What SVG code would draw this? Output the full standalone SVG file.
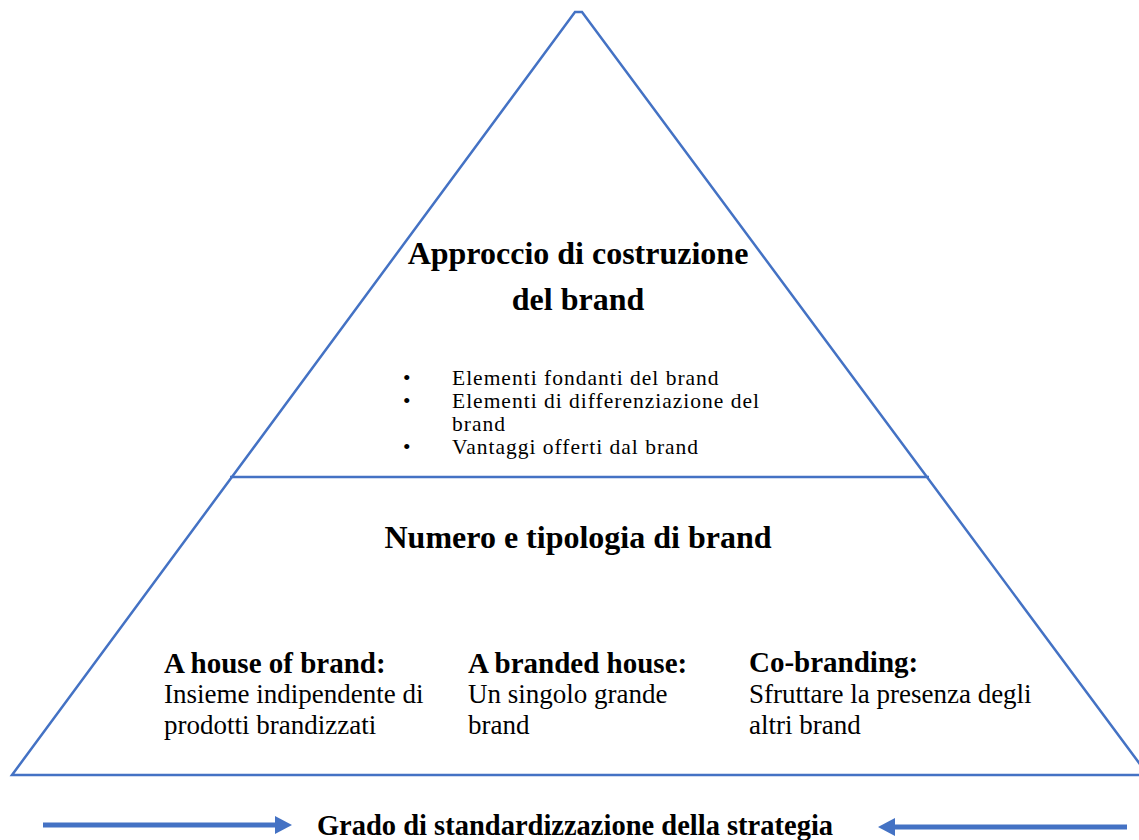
<svg xmlns="http://www.w3.org/2000/svg" width="1139" height="840" viewBox="0 0 1139 840">
  <style>
    .edge { fill: none; stroke: #4472C4; stroke-width: 2.5; stroke-linejoin: miter; }
    .title { font-family: "Liberation Serif", "Times New Roman", serif; font-weight: bold; font-size: 32px; fill: #000; }
    .bullet { font-family: "Liberation Serif", "Times New Roman", serif; font-size: 21.5px; letter-spacing: 1px; fill: #000; }
    .label { font-family: "Liberation Serif", "Times New Roman", serif; font-weight: bold; font-size: 29px; fill: #000; }
    .desc { font-family: "Liberation Serif", "Times New Roman", serif; font-size: 27px; fill: #000; }
    .arrow { fill: #4472C4; }
  </style>
  <rect width="1139" height="840" fill="#fff"/>

  <!-- pyramid outline and dividing line -->
  <g id="pyramid">
    <polygon class="edge" points="12,775 575,12 582,12 1148,775"/>
    <line class="edge" x1="230" y1="477" x2="929" y2="477"/>
  </g>

  <!-- top level -->
  <g id="approccio">
    <text class="title" x="578" y="264" text-anchor="middle">Approccio di costruzione</text>
    <text class="title" x="578" y="310" text-anchor="middle">del brand</text>
    <text class="bullet" x="403" y="385">•</text>
    <text class="bullet" x="452" y="385">Elementi fondanti del brand</text>
    <text class="bullet" x="403" y="408">•</text>
    <text class="bullet" x="452" y="408">Elementi di differenziazione del</text>
    <text class="bullet" x="452" y="431">brand</text>
    <text class="bullet" x="403" y="454">•</text>
    <text class="bullet" x="452" y="454">Vantaggi offerti dal brand</text>
  </g>

  <!-- bottom level -->
  <g id="numero">
    <text class="title" x="578" y="548" text-anchor="middle">Numero e tipologia di brand</text>
  </g>
  <g id="house-of-brand">
    <text class="label" x="164" y="673">A house of brand:</text>
    <text class="desc" x="164" y="703">Insieme indipendente di</text>
    <text class="desc" x="164" y="734">prodotti brandizzati</text>
  </g>
  <g id="branded-house">
    <text class="label" x="468" y="673">A branded house:</text>
    <text class="desc" x="468" y="703">Un singolo grande</text>
    <text class="desc" x="468" y="734">brand</text>
  </g>
  <g id="co-branding">
    <text class="label" x="749" y="672">Co-branding:</text>
    <text class="desc" x="749" y="703">Sfruttare la presenza degli</text>
    <text class="desc" x="749" y="734">altri brand</text>
  </g>

  <!-- standardisation arrows -->
  <g id="connectors">
    <rect class="arrow" x="43" y="822.5" width="233" height="5"/>
    <polygon class="arrow" points="275,816 292,825 275,834"/>
    <rect class="arrow" x="894" y="824.5" width="233" height="5"/>
    <polygon class="arrow" points="895,818 878,827 895,836"/>
  </g>
  <g id="grado">
    <text class="label" x="575" y="835" text-anchor="middle" style="font-size:28.5px">Grado di standardizzazione della strategia</text>
  </g>
</svg>
